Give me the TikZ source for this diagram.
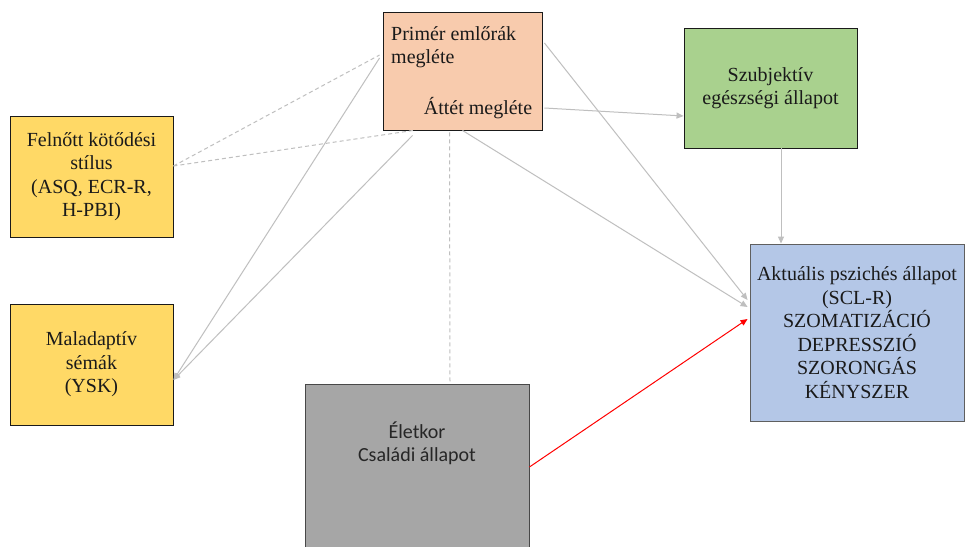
\documentclass[tikz,border=0pt]{standalone}
\usepackage{fontspec}
\setmainfont{Liberation Serif}
\newfontfamily\calib{Carlito}
\usetikzlibrary{arrows.meta}

\definecolor{peach}{HTML}{F8CBAD}
\definecolor{gold}{HTML}{FFD966}
\definecolor{leaf}{HTML}{A9D18E}
\definecolor{sky}{HTML}{B4C7E7}
\definecolor{stone}{HTML}{A6A6A6}
\definecolor{wire}{HTML}{BFBFBF}
\definecolor{ink}{HTML}{1A1A1A}

\tikzset{
  box/.style={draw=ink, line width=0.9pt, inner sep=0pt, align=center,
    text=ink, font=\fontsize{20}{23.5}\selectfont},
  label/.style={inner sep=0pt, text=ink, font=\fontsize{20}{23.5}\selectfont},
  link/.style={draw=wire, line width=1pt},
  dlink/.style={link, dash pattern=on 4pt off 3pt},
  tip/.style={-{Triangle[length=7pt,width=6pt]}},
}

\begin{document}
\begin{tikzpicture}[x=1pt, y=-1pt]
  \clip (0,0) rectangle (966,546);
  \fill[white] (0,0) rectangle (966,546);

  % boxes
  \node[box, fill=peach, minimum width=159pt, minimum height=118pt] (prim) at (462.5,71) {};
  \node[label, anchor=north west, align=left] (primtxt) at (391,26) {Primér emlőrák\\megléte};
  \node[label] (attet) at (478,108) {Áttét megléte};

  \node[box, fill=gold, minimum width=163pt, minimum height=121pt] (felnott) at (91.5,176.5)
    {Felnőtt kötődési\\stílus\\(ASQ, ECR-R,\\H-PBI)};
  \node[box, fill=gold, minimum width=163pt, minimum height=121pt] (malad) at (91.5,364.5)
    {Maladaptív\\sémák\\(YSK)};
  \node[box, fill=leaf, minimum width=173pt, minimum height=120pt] (szubj) at (770.5,88)
    {Szubjektív\\egészségi állapot};
  \node[box, fill=sky, draw=ink!70, minimum width=214pt, minimum height=177pt] (aktu) at (857,332.5)
    {Aktuális pszichés állapot\\(SCL-R)\\SZOMATIZÁCIÓ\\DEPRESSZIÓ\\SZORONGÁS\\KÉNYSZER};
  \node[box, fill=stone, draw=ink!80, minimum width=224pt, minimum height=176pt] (elet) at (417,472) {};
  \node[label, align=center, text=black!85, font=\calib\fontsize{20}{23}\selectfont] (elettxt) at (417,443)
    {Életkor\\Családi állapot};

  % dashed associations
  \draw[dlink] ([yshift=10.5pt]felnott.east) -- ([xshift=-3pt,yshift=16pt]prim.west);
  \draw[dlink] ([yshift=10.5pt]felnott.east) -- ([xshift=-49.5pt]prim.south);
  \draw[dlink] ([xshift=-13pt,yshift=-2pt]prim.south) -- ([xshift=33pt]elet.north);

  % solid paths
  \draw[link, tip] ([xshift=-3pt,yshift=13pt]prim.west) -- ([yshift=-15.5pt]malad.east);
  \draw[link, tip] ([xshift=-50pt,yshift=-5pt]prim.south) -- ([yshift=-15.5pt]malad.east);
  \draw[link, tip] ([xshift=2pt,yshift=28pt]prim.east) -- ([xshift=-2pt,yshift=32.5pt]aktu.west);
  \draw[link, tip] (prim.south) -- ([xshift=-2pt,yshift=25.5pt]aktu.west);
  \draw[link, tip] ([xshift=2pt,yshift=-37pt]prim.east) -- ([yshift=-28pt]szubj.west);
  \draw[link, tip] ([xshift=10.5pt]szubj.south) -- ([xshift=-76pt]aktu.north);
  \draw[draw=red, line width=1pt, -{Triangle[length=7pt,width=6pt]}]
    ([yshift=5pt]elet.east) -- ([xshift=-2pt,yshift=13.5pt]aktu.west);
\end{tikzpicture}
\end{document}
